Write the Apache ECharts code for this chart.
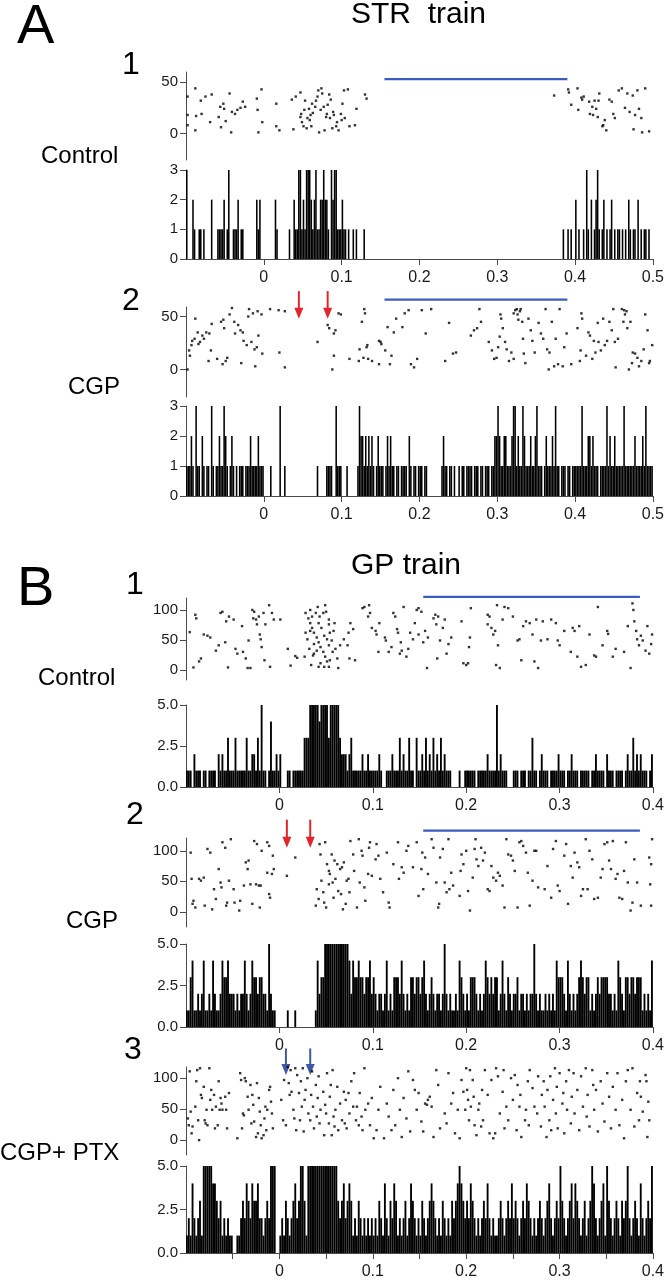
<!DOCTYPE html>
<html><head><meta charset="utf-8">
<script src="https://cdn.jsdelivr.net/npm/echarts@6/dist/echarts.min.js"></script>
<style>html,body{margin:0;padding:0;background:#fff}#c{width:667px;height:1280px}</style>
</head><body><div id="c"></div>
<script>
// ---------- tick labels ----------
const aXTicks = [0,100,200,300,400,500];
const aXLabels = ['0','0.1','0.2','0.3','0.4','0.5'];
const bXTicks = [0,100,200,300,400];
const bXLabels = ['0','0.1','0.2','0.3','0.4'];
const b3MinorTicks = [-50,0,50,100,150,200,250,300,350,400];
const aRasterYTicks = [0,50];
const bRasterYTicks = [0,50,100];
const binMs = 2; // histogram bin width (ms)

// ---------- stimulus markers (ms, trial level) ----------
const a1Stim = [155, 390, 53];
const a2Stim = [155, 390, 66];
const b1Stim = [154, 386, 122];
const b2Stim = [154, 386, 133];
const a2Arrows = [[45,74,48],[82,74,48]];
const b2Arrows = [[8,151,105],[33,151,105]];
const b3Arrows = [[7,148,105],[33,148,105]];

// ---------- A1 STR train, Control ----------
const a1Raster = [[-98,36],[-98,18],[-98,8],[-88,44],[-88,3],[-87,17],[-81,32],[-80,19],[-75,36],[-69,11],[-67,38],[-58,16],[-56,26],[-55,6],[-52,29],[-51,24],[-49,12],[-44,39],[-42,1],[-41,21],[-37,19],[-34,23],[-30,25],[-27,31],[-24,26],[-9,34],[-8,23],[-7,1],[-3,43],[-2,11],[16,29],[16,7],[20,3],[36,33],[38,4],[41,36],[47,40],[47,16],[48,19],[49,11],[51,7],[52,23],[53,32],[55,5],[56,15],[58,24],[59,13],[60,18],[61,7],[62,29],[63,20],[66,26],[67,32],[69,36],[70,42],[71,1],[73,23],[74,44],[75,39],[77,26],[78,3],[80,16],[81,19],[82,28],[84,38],[85,15],[86,33],[88,5],[89,21],[90,18],[93,7],[94,11],[96,3],[99,19],[100,13],[101,29],[103,42],[104,15],[108,43],[110,7],[117,8],[119,24],[130,38],[132,34],
[373,37],[391,43],[392,40],[395,28],[403,44],[404,23],[408,35],[409,33],[411,36],[418,31],[419,19],[422,26],[423,18],[425,32],[427,24],[429,16],[430,32],[431,39],[435,7],[436,8],[438,13],[440,3],[444,33],[447,31],[449,19],[451,15],[456,42],[460,44],[464,25],[467,39],[470,21],[474,37],[475,4],[477,18],[480,42],[482,24],[485,15],[486,1],[490,44],[495,2]];
const a1Hist = [
3,0,0,0,2,1,0,0,1,1,0,1,0,0,0,0,2,0,0,0,1,1,1,1,2,
0,1,3,0,0,1,1,1,2,0,1,1,0,0,0,0,0,0,0,0,2,1,2,0,0,
0,0,0,0,0,0,0,2,1,0,0,0,0,0,0,0,1,0,0,2,1,1,3,3,1,
2,1,3,3,3,2,1,2,3,1,1,2,2,3,2,2,1,0,3,2,3,3,1,1,1,
2,1,1,0,1,0,0,1,0,1,0,0,0,0,1,0,0,0,0,0,0,0,0,0,0,
0,0,0,0,0,0,0,0,0,0,0,0,0,0,0,0,0,0,0,0,0,0,0,0,0,
0,0,0,0,0,0,0,0,0,0,0,0,0,0,0,0,0,0,0,0,0,0,0,0,0,
0,0,0,0,0,0,0,0,0,0,0,0,0,0,0,0,0,0,0,0,0,0,0,0,0,
0,0,0,0,0,0,0,0,0,0,0,0,0,0,0,0,0,0,0,0,0,0,0,0,0,
0,0,0,0,0,0,0,0,0,0,0,0,0,0,0,0,0,1,0,0,1,0,1,0,0,
2,0,1,0,0,1,0,3,1,0,2,0,1,2,3,1,0,1,2,0,1,0,1,2,0,
1,0,1,1,0,1,0,1,0,2,1,0,1,1,0,2,0,1,0,1,1,0,1,0,0];

// ---------- A2 STR train, CGP ----------
const a2Raster = [[-98,0],[-96,18],[-95,13],[-93,23],[-92,27],[-89,29],[-88,48],[-85,35],[-84,24],[-82,26],[-79,32],[-77,29],[-74,35],[-71,8],[-70,34],[-68,18],[-67,43],[-60,10],[-55,45],[-53,5],[-52,47],[-51,39],[-49,8],[-47,11],[-44,52],[-41,58],[-38,45],[-37,34],[-33,42],[-30,37],[-29,6],[-27,35],[-26,27],[-22,23],[-20,50],[-19,57],[-16,26],[-14,53],[-12,19],[-11,3],[-9,21],[-8,55],[-7,32],[-3,52],[-2,15],[8,57],[19,56],[20,16],[27,2],[27,55],[69,26],[82,42],[84,39],[88,0],[90,34],[92,37],[96,53],[99,52],[90,13],[110,10],[122,8],[123,19],[126,45],[128,11],[129,57],[130,53],[132,21],[133,23],[134,10],[139,8],[148,5],[148,27],[150,26],[151,24],[156,18],[159,40],[162,5],[164,13],[167,35],[170,48],[178,40],[181,53],[186,56],[189,5],[193,2],[197,10],[203,56],[208,34],[215,57],[233,8],[238,44],[243,15],[247,16],[266,32],[270,37],[274,39],[277,57],[279,45],[289,26],[293,18],[296,10],[299,11],[301,21],[303,31],[304,52],[305,48],[307,39],[310,26],[312,19],[315,8],[318,16],[321,10],[321,53],[323,56],[325,57],[326,52],[327,47],[329,55],[330,57],[332,45],[333,29],[334,15],[336,6],[340,48],[343,37],[345,27],[348,16],[353,44],[356,34],[359,29],[362,57],[364,19],[366,0],[367,16],[370,45],[373,3],[375,29],[378,5],[380,57],[384,3],[386,21],[389,34],[395,5],[403,39],[406,8],[407,18],[408,53],[409,48],[414,13],[417,35],[419,32],[422,10],[424,27],[426,16],[429,44],[430,26],[433,18],[436,48],[438,23],[441,27],[444,45],[447,37],[449,57],[451,26],[452,2],[455,29],[460,57],[462,45],[463,56],[464,52],[466,55],[467,39],[469,0],[471,45],[473,6],[474,16],[477,15],[480,11],[482,3],[485,8],[488,19],[490,52],[493,37],[495,6],[496,8],[499,23]];
const a2Hist = [
1,1,1,2,1,0,3,1,1,0,2,1,0,1,1,0,3,1,0,1,1,2,1,1,3,
2,1,0,1,2,1,0,1,0,1,1,1,0,1,1,1,2,1,1,1,1,2,1,1,1,
0,0,0,0,1,0,0,0,0,0,3,0,0,1,0,0,0,0,0,0,0,0,0,0,0,
0,0,0,0,0,0,0,0,0,1,0,0,0,0,0,1,1,1,1,0,0,3,1,1,1,
0,0,0,1,0,0,0,0,0,0,1,3,2,2,1,2,1,2,1,2,1,0,1,2,1,
1,1,0,1,2,1,2,1,1,0,1,1,0,1,1,1,1,0,2,1,0,1,1,0,1,
1,1,0,1,1,0,0,0,0,0,0,0,0,0,1,2,1,1,0,1,1,0,1,0,0,
1,0,1,1,0,1,1,1,1,0,1,1,1,0,1,1,0,1,1,1,0,1,1,2,2,
3,2,1,1,2,2,1,1,1,2,3,3,1,2,1,1,3,2,1,1,1,2,1,1,2,
3,1,1,1,0,1,2,1,1,1,2,1,3,1,1,0,1,1,1,0,1,1,0,1,1,
1,1,1,1,3,1,1,1,2,2,1,2,1,1,1,0,1,1,1,1,3,1,2,1,1,
2,1,1,1,1,1,3,1,1,1,1,1,1,2,1,1,1,1,2,1,3,1,1,1,1];

// ---------- B1 GP train, Control ----------
const b1Raster = [[-96,63],[-90,92],[-89,86],[-86,14],[-84,19],[-92,4],[-81,59],[-77,57],[-74,54],[-68,32],[-65,41],[-63,95],[-61,97],[-58,46],[-57,81],[-55,4],[-54,89],[-49,84],[-47,35],[-45,27],[-40,73],[-39,30],[-36,19],[-34,3],[-33,49],[-31,3],[-29,100],[-28,86],[-27,97],[-25,84],[-24,76],[-22,89],[-21,59],[-20,51],[-19,38],[-17,95],[-16,16],[-15,76],[-11,108],[-10,5],[-8,95],[-6,84],[1,84],[9,35],[12,7],[17,23],[19,20],
[28,95],[31,86],[33,78],[35,70],[37,62],[40,54],[42,46],[44,38],[47,30],[49,22],[51,14],[53,5],[30,51],[32,35],[34,8],[36,24],[39,95],[41,105],[43,89],[45,70],[48,57],[50,97],[53,84],[54,62],[56,49],[58,65],[60,35],[62,19],[63,3],[65,41],[49,108],[53,76],[42,5],[37,27],[33,65],[28,62],[27,22],[35,89],[47,95],[51,51],[57,30],[59,78],[44,11],[40,32],[42,78],[53,41],[54,16],[48,5],[37,43],[33,100],
[69,51],[73,41],[74,62],[75,19],[76,78],[79,68],[81,16],[89,103],[91,105],[95,89],[96,108],[97,95],[99,70],[103,65],[104,59],[106,30],[107,78],[113,54],[114,49],[117,30],[120,38],[122,95],[124,89],[126,68],[127,62],[129,27],[130,46],[131,32],[133,105],[136,22],[138,35],[140,62],[143,51],[145,78],[147,100],[149,103],[149,59],[152,97],[154,46],[156,65],[158,3],[159,54],[165,86],[167,92],[168,76],[169,19],[170,89],[172,49],[175,70],[177,84],[179,27],[181,43],[184,54],[195,81],[197,11],[200,8],[202,11],[203,38],[204,54],[205,103],[223,92],[223,76],[225,89],[227,70],[229,59],[231,65],[232,8],[233,108],[234,41],[236,3],[239,84],[241,105],[245,103],[250,89],[255,49],[257,51],[259,16],[261,73],[264,81],[268,78],[271,59],[273,14],[275,84],[277,3],[280,49],[282,81],[287,51],[291,84],[296,78],[298,49],[300,41],[305,65],[312,30],[314,70],[316,65],[319,22],[321,73],[323,5],[328,8],[332,59],[337,24],[339,22],[341,105],[346,41],[351,65],[352,60],[357,22],[360,35],[369,30],[373,73],[376,3],[378,111],[379,100],[380,81],[382,65],[383,51],[385,41],[387,57],[389,49],[392,32],[394,73],[396,27],[398,43],[399,59]];
const b1Hist = [
1,1,1,0,2,1,1,1,0,1,1,0,1,1,1,1,0,2,1,2,1,1,3,1,1,
1,3,1,1,1,1,1,3,1,1,2,2,1,3,1,5,1,1,0,1,4,1,1,2,1,
2,0,0,0,1,1,0,1,1,1,1,1,1,3,3,3,5,5,5,5,5,4,5,5,5,
5,3,5,5,5,5,5,3,2,2,2,1,2,3,1,1,1,1,1,2,1,1,2,1,1,
1,1,1,2,1,0,0,1,1,1,2,1,1,1,3,1,2,1,1,3,1,1,0,3,1,
1,2,1,3,1,2,1,3,1,2,1,3,1,2,1,1,1,0,0,0,0,1,0,0,1,
1,1,1,1,1,0,1,1,1,1,1,2,1,1,1,1,5,1,2,1,1,1,0,0,0,
1,1,1,0,1,1,1,0,1,1,3,1,1,0,1,2,1,1,1,0,1,1,1,1,2,
1,1,1,0,1,1,2,1,1,1,0,1,1,1,1,1,0,1,1,2,1,1,1,1,0,
2,1,1,1,0,1,1,1,1,0,1,2,1,1,3,1,2,1,2,1,1,1,0,1,2];

// ---------- B2 GP train, CGP ----------
const b2Raster = [[-95,97],[-94,54],[-93,13],[-92,18],[-90,7],[-86,54],[-84,51],[-81,56],[-80,10],[-77,103],[-74,97],[-72,4],[-70,37],[-68,21],[-65,70],[-63,48],[-62,40],[-61,114],[-58,105],[-57,10],[-56,15],[-54,51],[-52,119],[-49,37],[-48,15],[-43,2],[-42,18],[-38,43],[-36,81],[-34,70],[-33,84],[-31,45],[-29,13],[-27,116],[-25,45],[-24,111],[-22,43],[-21,7],[-20,43],[-19,100],[-13,64],[-11,29],[-11,108],[-10,23],[-8,62],[-7,92],[-6,70],[-13,114],[8,59],[17,89],
[40,37],[39,10],[42,21],[43,111],[44,94],[45,51],[47,32],[48,15],[49,114],[50,7],[51,78],[53,45],[53,67],[54,62],[56,94],[57,48],[58,23],[59,84],[60,54],[62,78],[63,34],[65,70],[66,29],[67,73],[68,4],[69,81],[71,13],[72,51],[74,54],[75,32],[76,116],[79,94],[80,67],[83,7],[85,119],[86,48],[88,100],[89,92],[91,40],[92,18],[95,62],[96,105],[97,114],[99,59],[103,86],[104,111],[106,92],[108,54],[111,32],[115,97],[117,15],[118,7],[122,78],[127,114],[128,54],[131,73],[133,64],[136,100],[138,108],[143,73],[145,122],[147,114],[149,26],[152,70],[153,97],[154,37],[156,89],[159,62],[163,119],[165,105],[168,48],[170,7],[171,13],[172,89],[175,103],[177,48],[179,32],[181,119],[182,37],[184,64],[186,43],[193,26],[194,67],[195,94],[197,78],[200,100],[202,34],[204,2],[207,56],[209,103],[210,119],[211,86],[213,75],[216,105],[218,84],[220,97],[223,37],[225,34],[227,75],[229,56],[232,51],[234,64],[236,59],[239,43],[241,7],[243,119],[245,94],[248,92],[250,84],[252,67],[255,7],[257,114],[259,116],[261,108],[264,97],[266,64],[268,10],[271,51],[273,100],[275,100],[277,40],[284,37],[287,75],[291,23],[293,103],[296,116],[298,43],[300,34],[305,92],[307,111],[309,13],[312,75],[314,56],[316,97],[319,81],[321,73],[323,26],[325,37],[328,119],[330,37],[332,100],[335,86],[337,21],[341,23],[344,56],[346,70],[348,111],[351,114],[353,84],[355,70],[357,116],[360,54],[362,62],[364,23],[367,21],[369,67],[371,114],[373,48],[376,2],[378,15],[380,86],[383,48],[387,10],[394,122],[396,89],[398,78],[399,119],[397,45],[398,10]];
const b2Hist = [
1,1,3,4,1,1,2,1,2,4,1,1,2,1,4,2,1,1,2,4,3,3,4,2,2,
2,1,2,1,2,2,4,2,1,2,4,3,3,2,3,3,2,2,1,5,2,1,1,0,0,
0,0,0,0,1,0,0,0,1,0,0,0,0,0,0,0,0,0,0,1,4,2,3,3,5,
5,5,5,5,5,5,5,5,5,5,5,5,4,2,4,3,3,4,3,3,2,3,3,4,2,
3,2,1,2,2,1,2,4,1,2,1,3,3,3,2,4,2,1,2,1,3,3,2,3,3,
2,3,4,2,1,2,3,2,1,2,2,1,2,5,2,1,2,1,1,2,1,4,3,2,1,
2,1,3,3,3,2,1,2,1,2,4,3,2,3,2,3,3,1,2,4,2,1,3,2,1,
2,2,3,1,2,2,1,2,1,2,2,5,2,1,2,1,1,2,1,2,1,2,1,4,3,
3,3,2,1,4,2,1,2,1,2,3,4,3,2,3,3,1,2,1,2,3,2,3,3,3,
3,2,2,1,2,1,4,3,2,1,3,3,2,3,3,2,3,3,3,1,2,1,2,1,4];

// ---------- B3 GP train, CGP + PTX ----------
const b3Raster = [[-98,35],[-97,24],[-96,111],[-95,46],[-94,11],[-93,22],[-90,54],[-89,95],[-88,113],[-87,32],[-86,0],[-85,116],[-84,73],[-83,68],[-81,86],[-80,32],[-79,27],[-78,49],[-77,24],[-75,116],[-74,65],[-73,81],[-72,49],[-71,119],[-70,73],[-69,19],[-68,54],[-66,24],[-65,95],[-64,49],[-63,68],[-62,59],[-61,49],[-58,70],[-57,49],[-56,19],[-54,76],[-45,3],[-43,119],[-42,108],[-41,97],[-40,19],[-39,43],[-38,40],[-37,100],[-36,95],[-34,70],[-33,49],[-31,89],[-30,27],[-29,73],[-28,57],[-27,30],[-25,5],[-24,92],[-23,11],[-22,68],[-21,46],[-20,24],[-19,3],[-17,8],[-16,35],[-15,54],[-14,16],[-13,49],[-11,81],[-10,86],[-9,62],[-8,43],[-7,19],[-6,119],
[2,65],[4,32],[5,97],[7,24],[8,122],[9,118],[10,92],[11,73],[12,113],[13,78],[15,49],[16,35],[17,116],[18,16],[19,105],[21,76],[22,32],[23,95],[24,54],[25,116],[26,14],[27,65],[28,81],[30,100],[31,43],[32,122],[33,32],[34,73],[35,111],[36,54],[37,19],[39,89],[40,38],[41,68],[42,103],[43,27],[44,49],[45,119],[47,78],[48,8],[49,57],[50,43],[51,108],[53,27],[54,70],[55,89],[56,8],[57,113],[58,38],[59,22],[60,49],[62,86],[63,16],[65,59],[67,32],[69,78],[70,27],[71,65],[72,19],[74,76],[75,43],[77,95],[79,54],[80,108],[82,32],[83,54],[85,24],[86,76],[88,38],[89,16],[91,116],[92,49],[95,59],[97,24],[99,68],[101,3],[104,16],[106,49],[108,86],[111,119],[112,3],[115,59],[117,38],[120,16],[122,81],[124,24],[127,100],[129,49],[131,5],[133,68],[136,35],[138,111],[140,14],[143,97],[145,81],[147,49],[149,76],[152,30],[154,14],[156,59],[158,57],[159,65],[161,70],[163,54],[165,5],[168,113],[170,89],[172,19],[177,43],[179,27],[181,108],[184,59],[186,76],[188,11],[191,49],[193,3],[194,122],[195,97],[197,78],[199,49],[200,116],[201,81],[202,65],[203,32],[204,113],[205,54],[207,97],[208,70],[209,24],[211,8],[213,49],[214,59],[216,22],[217,81],[218,32],[220,113],[223,73],[225,11],[227,97],[229,3],[231,11],[232,116],[234,103],[236,43],[239,78],[240,113],[241,19],[243,54],[245,32],[248,100],[250,65],[252,105],[254,16],[255,89],[257,54],[258,73],[259,5],[261,119],[263,32],[264,49],[266,95],[267,24],[268,113],[271,84],[273,54],[275,119],[276,43],[277,103],[280,22],[281,73],[283,95],[284,54],[286,5],[287,81],[289,32],[290,103],[291,16],[293,65],[295,116],[296,43],[297,86],[298,19],[300,108],[303,59],[304,76],[305,11],[307,95],[308,49],[310,113],[312,27],[313,70],[315,108],[316,43],[319,81],[321,16],[323,103],[325,54],[328,116],[329,38],[330,73],[332,22],[335,113],[336,89],[337,49],[339,81],[341,14],[344,95],[346,59],[348,30],[351,108],[353,70],[355,19],[357,86],[360,49],[362,108],[364,24],[367,65],[369,3],[371,95],[373,113],[376,49],[378,116],[380,22],[383,76],[385,32],[386,95],[387,70],[389,46],[392,105],[393,95],[394,5],[395,62],[396,32]];
const b3Hist = [
1,2,1,4,2,1,2,3,1,5,5,5,5,5,4,4,3,2,3,1,2,1,2,1,1,
0,0,1,1,2,3,2,4,3,2,4,3,3,4,2,2,1,2,3,2,5,5,5,0,0,
1,2,1,3,2,1,2,3,4,2,3,5,5,3,1,5,5,5,5,5,5,5,5,5,5,
5,5,5,5,5,5,3,2,3,4,2,3,4,3,1,2,1,3,2,1,2,1,2,1,2,
1,2,1,3,2,1,4,2,1,3,2,4,3,1,2,1,2,3,1,2,4,3,2,1,2,
1,3,2,1,2,3,4,3,2,1,2,1,3,2,1,2,1,3,2,3,4,5,4,3,2,
3,2,4,3,2,1,2,1,2,3,2,4,2,1,2,1,1,2,3,2,1,2,3,2,4,
2,3,2,1,2,3,2,4,3,2,1,2,1,2,3,2,1,2,3,4,2,1,2,3,2,
5,3,2,1,2,3,4,2,4,3,2,1,2,3,1,2,3,5,4,2,1,2,3,4,1,
5,3,2,1,2,3,2,1,3,2,3,5,2,1,2,3,2,1,4,2,1,2,3,2,5];

// ================= chart construction =================
const FONT = '"Liberation Sans", Arial, Helvetica, sans-serif';
const AX = '#4a4a4a';
const LBL = {margin: 8, fontSize: 15, color: '#1a1a1a', fontFamily: FONT};
const grids = [], xAxes = [], yAxes = [], series = [];

function addGrid(top, height) {
  grids.push({left: 186, width: 467, top: top, height: height});
  return grids.length - 1;
}
function hiddenX(i, xmin, xmax) {
  xAxes.push({gridIndex: i, type: 'value', min: xmin, max: xmax, show: false});
}
function histX(i, xmin, xmax, tickVals, labelVals, labels) {
  xAxes.push({gridIndex: i, type: 'value', min: xmin, max: xmax, position: 'bottom',
    axisLine: {show: true, onZero: false, lineStyle: {color: AX, width: 1}},
    axisTick: {show: true, length: 6, customValues: tickVals, lineStyle: {color: AX, width: 1}},
    axisLabel: {show: true, customValues: labelVals, margin: 11, fontSize: 16, color: '#1a1a1a', fontFamily: FONT,
      formatter: v => labels[labelVals.indexOf(v)]},
    splitLine: {show: false}});
}
function yAxis(i, ymin, ymax, tickOpts, labelOpts, extra) {
  yAxes.push(Object.assign({gridIndex: i, type: 'value', position: 'left', min: ymin, max: ymax,
    axisLine: {show: true, onZero: false, lineStyle: {color: AX, width: 1}},
    axisTick: Object.assign({show: true, length: 6, lineStyle: {color: AX, width: 1}}, tickOpts),
    axisLabel: Object.assign({}, LBL, labelOpts),
    splitLine: {show: false}}, extra || {}));
}
function rasterSeries(i, data) {
  series.push({type: 'scatter', xAxisIndex: i, yAxisIndex: i, data: data, symbol: 'rect',
    symbolSize: 2.4, itemStyle: {color: '#000'}, silent: true, animation: false});
}
function histSeries(i, xmin, counts) {
  const data = counts.map((c, k) => [xmin + k * binMs, c]).filter(d => d[1] > 0);
  series.push({type: 'custom', xAxisIndex: i, yAxisIndex: i, data: data, silent: true, animation: false,
    renderItem: (p, api) => {
      const x0 = api.value(0), c = api.value(1);
      const a = api.coord([x0, c]), b = api.coord([x0 + binMs, 0]);
      return {type: 'rect', shape: {x: a[0], y: a[1], width: b[0] - a[0], height: b[1] - a[1]},
        style: {fill: '#000'}};
    }});
}
function stimSeries(i, stim) {
  series.push({type: 'custom', xAxisIndex: i, yAxisIndex: i, data: [stim], silent: true, animation: false, clip: false,
    renderItem: (p, api) => {
      const a = api.coord([api.value(0), api.value(2)]), b = api.coord([api.value(1), api.value(2)]);
      return {type: 'line', shape: {x1: a[0], y1: a[1], x2: b[0], y2: b[1]},
        style: {stroke: '#3a5cc2', lineWidth: 2.2}};
    }});
}
function arrowSeries(i, arrows, color) {
  series.push({type: 'custom', xAxisIndex: i, yAxisIndex: i, data: arrows, silent: true, animation: false, clip: false,
    renderItem: (p, api) => {
      const top = api.coord([api.value(0), api.value(1)]), tip = api.coord([api.value(0), api.value(2)]);
      const headH = 11, headW = 4.5;
      return {type: 'group', children: [
        {type: 'line', shape: {x1: top[0], y1: top[1], x2: tip[0], y2: tip[1] - headH + 1},
          style: {stroke: color, lineWidth: 2}},
        {type: 'polygon', shape: {points: [[tip[0] - headW, tip[1] - headH], [tip[0] + headW, tip[1] - headH], [tip[0], tip[1]]]},
          style: {fill: color}}]};
    }});
}
const bYFmt = v => v.toFixed(1);

// A1
let g = addGrid(72, 88); hiddenX(g, -100, 500);
yAxis(g, -26, 60, {customValues: aRasterYTicks}, {customValues: aRasterYTicks});
rasterSeries(g, a1Raster); stimSeries(g, a1Stim);
g = addGrid(170, 89); histX(g, -100, 500, aXTicks, aXTicks, aXLabels);
yAxis(g, 0, 3, {}, {}, {interval: 1}); histSeries(g, -100, a1Hist);
// A2
g = addGrid(307, 90); hiddenX(g, -100, 500);
yAxis(g, -26, 59, {customValues: aRasterYTicks}, {customValues: aRasterYTicks});
rasterSeries(g, a2Raster); stimSeries(g, a2Stim); arrowSeries(g, a2Arrows, '#e0262b');
g = addGrid(406, 90); histX(g, -100, 500, aXTicks, aXTicks, aXLabels);
yAxis(g, 0, 3, {}, {}, {interval: 1}); histSeries(g, -100, a2Hist);
// B1
g = addGrid(598, 82); hiddenX(g, -100, 400);
yAxis(g, -17, 120, {customValues: bRasterYTicks}, {customValues: bRasterYTicks});
rasterSeries(g, b1Raster); stimSeries(g, b1Stim);
g = addGrid(705, 82); histX(g, -100, 400, bXTicks, bXTicks, bXLabels);
yAxis(g, 0, 5, {}, {formatter: bYFmt}, {interval: 2.5}); histSeries(g, -100, b1Hist);
// B2
g = addGrid(838, 89); hiddenX(g, -100, 400);
yAxis(g, -25, 121, {customValues: bRasterYTicks}, {customValues: bRasterYTicks});
rasterSeries(g, b2Raster); stimSeries(g, b2Stim); arrowSeries(g, b2Arrows, '#e0262b');
g = addGrid(944, 83); histX(g, -100, 400, bXTicks, bXTicks, bXLabels);
yAxis(g, 0, 5, {}, {formatter: bYFmt}, {interval: 2.5}); histSeries(g, -100, b2Hist);
// B3
g = addGrid(1067, 88); hiddenX(g, -100, 400);
yAxis(g, -24, 118, {customValues: bRasterYTicks}, {customValues: bRasterYTicks});
rasterSeries(g, b3Raster); arrowSeries(g, b3Arrows, '#3d5aa6');
g = addGrid(1166, 88); histX(g, -100, 400, b3MinorTicks, bXTicks, bXLabels);
yAxis(g, 0, 5, {}, {formatter: bYFmt}, {interval: 2.5}); histSeries(g, -100, b3Hist);

// ---------- text labels ----------
function txt(s, x, y, size) {
  return {type: 'text', x: x, y: y, silent: true,
    style: {text: s, fontSize: size, fontFamily: FONT, fill: '#000', align: 'left', verticalAlign: 'middle'}};
}
const texts = [
  txt('A', 17, 28, 56), txt('STR  train', 351, 15, 30),
  txt('1', 122, 65, 32), txt('Control', 41, 156, 24),
  txt('2', 122, 301, 32), txt('CGP', 68, 387, 24),
  txt('B', 17, 590, 56), txt('GP train', 351, 566, 30),
  txt('1', 126, 585, 32), txt('Control', 38, 678, 24),
  txt('2', 126, 815, 32), txt('CGP', 66, 921, 24),
  txt('3', 124, 1050, 32), txt('CGP+ PTX', 0, 1153, 24)
];

const chart = echarts.init(document.getElementById('c'), null, {renderer: 'canvas'});
chart.setOption({animation: false, backgroundColor: '#fff', grid: grids, xAxis: xAxes, yAxis: yAxes,
  series: series, graphic: {elements: texts}});
</script></body></html>
